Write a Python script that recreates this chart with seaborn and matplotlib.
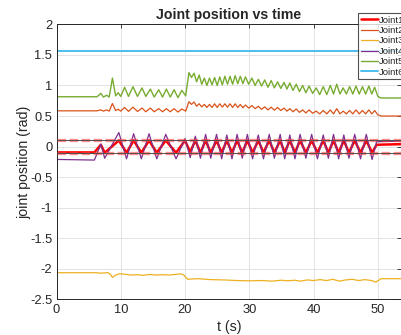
"""
Joint position vs time - recreated from a MATLAB style figure
"""

import matplotlib
matplotlib.use('Agg')
import matplotlib.pyplot as plt
import seaborn as sns

# ---- data ----
t_end = 53.6
joint_labels = ['Joint1', 'Joint2', 'Joint3', 'Joint4', 'Joint5', 'Joint6']
joint_colors = ['#FF0000', '#D95319', '#EDB120', '#7E2F8E', '#77AC30', '#4DBEEE']
joint_widths = [1.8, 0.9, 0.9, 0.9, 1.0, 1.4]

# Joint1 / Joint4 (oscillating wrist joints), peak/trough vertices
t_osc = [0, 5.9, 6.9, 7.5, 9.7, 10.9, 12.0, 13.2, 14.4, 15.6, 17.0, 18.6,
         20.0, 20.8, 21.6, 22.4, 23.2, 24.0, 24.9, 25.7, 26.5, 27.3, 28.1, 28.9,
         29.7, 30.5, 31.4, 32.2, 33.1, 33.9, 34.8, 35.5, 36.3, 37.1, 37.9, 38.8,
         39.7, 40.6, 41.5, 42.3, 43.1, 43.9, 44.7, 45.5, 46.4, 47.3, 48.2, 49.1,
         49.8, 53.6]
joint1 = [-0.095, -0.095, 0.03, -0.1, 0.1, -0.1, 0.1, -0.1, 0.1, -0.1, 0.1, -0.1,
          0.1, -0.09, 0.1, -0.1, 0.1, -0.1, 0.1, -0.1, 0.1, -0.1, 0.1, -0.1,
          0.1, -0.1, 0.1, -0.1, 0.1, -0.1, 0.1, -0.1, 0.1, -0.1, 0.1, -0.1,
          0.1, -0.1, 0.1, -0.1, 0.1, -0.1, 0.1, -0.1, 0.1, -0.1, 0.1, -0.1,
          0.03, 0.04]
joint4 = [-0.21, -0.22, 0.04, -0.19, 0.23, -0.2, 0.21, -0.2, 0.21, -0.2, 0.2, -0.2,
          0.13, -0.18, 0.17, -0.19, 0.2, -0.19, 0.2, -0.2, 0.19, -0.2, 0.2, -0.19,
          0.2, -0.2, 0.19, -0.2, 0.2, -0.19, 0.2, -0.2, 0.19, -0.2, 0.2, -0.19,
          0.2, -0.2, 0.19, -0.19, 0.2, -0.2, 0.19, -0.19, 0.2, -0.2, 0.2, -0.21,
          0.08, 0.09]

# Joint2 / Joint5 (shoulder/elbow), peak/trough vertices
t_arm = [0, 6.3, 6.9, 7.3, 7.8, 8.2, 8.7, 9.2, 9.6, 10.0,
         10.6, 11.2, 11.9, 12.6, 13.3, 13.9, 14.6, 15.2, 15.9, 16.5,
         17.1, 17.7, 18.3, 18.9, 19.5, 20.1, 20.6, 21.0, 21.4, 21.8,
         22.2, 22.6, 23.0, 23.4, 23.8, 24.2, 24.6, 25.0, 25.4, 25.8,
         26.2, 26.6, 27.0, 27.4, 27.8, 28.2, 28.6, 29.0, 29.4, 29.9,
         30.4, 30.9, 31.4, 31.9, 32.4, 32.9, 33.4, 33.9, 34.4, 34.9,
         35.4, 35.85, 36.3, 36.8, 37.3, 37.8, 38.3, 38.8, 39.3, 39.85,
         40.4, 40.95, 41.5, 42.05, 42.6, 43.1, 43.6, 44.1, 44.6, 45.1,
         45.6, 46.1, 46.6, 47.1, 47.6, 48.1, 48.6, 49.05, 49.5, 50.0,
         50.5, 53.6]
joint5 = [0.815, 0.815, 0.87, 0.81, 0.84, 0.81, 1.12, 0.83, 0.88, 0.82,
          0.97, 0.82, 0.98, 0.82, 0.96, 0.82, 0.94, 0.81, 0.93, 0.81,
          0.94, 0.81, 0.93, 0.80, 0.92, 0.83, 1.21, 1.13, 1.2, 1.06,
          1.17, 1.02, 1.12, 1.0, 1.12, 1.01, 1.13, 1.0, 1.14, 1.01,
          1.15, 1.02, 1.15, 1.02, 1.16, 1.03, 1.15, 1.03, 1.14, 1.02,
          1.12, 1.0, 1.1, 0.99, 1.09, 0.97, 1.08, 0.96, 1.06, 0.95,
          1.05, 0.94, 1.04, 0.92, 1.02, 0.9, 1.0, 0.88, 0.99, 0.87,
          0.96, 0.85, 0.98, 0.85, 1.0, 0.86, 1.02, 0.86, 0.96, 0.86,
          0.98, 0.86, 0.99, 0.86, 0.98, 0.86, 0.99, 0.86, 0.97, 0.82,
          0.795, 0.795]
joint2 = [0.585, 0.585, 0.60, 0.58, 0.60, 0.58, 0.705, 0.59, 0.61, 0.58,
          0.64, 0.575, 0.645, 0.575, 0.63, 0.57, 0.63, 0.57, 0.62, 0.57,
          0.62, 0.57, 0.62, 0.565, 0.615, 0.58, 0.735, 0.69, 0.73, 0.66,
          0.70, 0.65, 0.69, 0.64, 0.69, 0.64, 0.70, 0.64, 0.70, 0.645,
          0.70, 0.645, 0.70, 0.64, 0.70, 0.64, 0.69, 0.635, 0.68, 0.63,
          0.67, 0.62, 0.66, 0.61, 0.65, 0.60, 0.645, 0.595, 0.64, 0.59,
          0.63, 0.58, 0.62, 0.57, 0.615, 0.56, 0.60, 0.55, 0.60, 0.545,
          0.58, 0.535, 0.59, 0.535, 0.60, 0.535, 0.62, 0.535, 0.58, 0.535,
          0.59, 0.535, 0.60, 0.535, 0.59, 0.535, 0.60, 0.535, 0.59, 0.52,
          0.50, 0.50]

# Joint3
t_j3 = [0, 6.3, 6.8, 7.5, 8.0, 8.4, 8.7, 9.2, 9.8, 10.5,
        11.5, 12.5, 13.5, 14.5, 15.5, 16.5, 17.5, 18.5, 19.3, 19.8,
        20.4, 21.0, 22.0, 24.0, 26.0, 28.0, 30.0, 32.0, 33.5, 35.0,
        36.0, 37.0, 38.0, 39.0, 40.0, 41.0, 42.0, 43.0, 44.0, 45.0,
        46.0, 47.0, 48.0, 49.0, 49.7, 50.5, 53.6]
joint3 = [-2.062, -2.062, -2.07, -2.065, -2.06, -2.09, -2.14, -2.10, -2.08, -2.085,
          -2.10, -2.095, -2.105, -2.09, -2.10, -2.095, -2.10, -2.09, -2.08, -2.10,
          -2.17, -2.165, -2.16, -2.175, -2.18, -2.19, -2.195, -2.19, -2.20, -2.185,
          -2.195, -2.185, -2.20, -2.18, -2.19, -2.175, -2.19, -2.17, -2.20, -2.18,
          -2.17, -2.19, -2.175, -2.19, -2.215, -2.16, -2.16]

# Joint6 (constant)
t_j6 = [0, t_end]
joint6 = [1.571, 1.571]

limit_lines = [0.1, -0.1]
x_ticks = [0, 10, 20, 30, 40, 50]
y_ticks = [-2.5, -2, -1.5, -1, -0.5, 0, 0.5, 1, 1.5, 2]
y_tick_labels = ['-2.5', '-2', '-1.5', '-1', '-0.5', '0', '0.5', '1', '1.5', '2']

# ---- style ----
sns.set_theme(style='white')
plt.rcParams['font.family'] = ['Liberation Sans', 'DejaVu Sans']
plt.rcParams['axes.unicode_minus'] = False

fig = plt.figure(figsize=(4.01, 3.35), dpi=100)
ax = fig.add_axes([0.1409, 0.106, 0.8591, 0.8215])

series = [(t_osc, joint1), (t_arm, joint2), (t_j3, joint3),
          (t_osc, joint4), (t_arm, joint5), (t_j6, joint6)]
for (tt, yy), lab, col, lw in zip(series, joint_labels, joint_colors, joint_widths):
    sns.lineplot(x=tt, y=yy, ax=ax, color=col, linewidth=lw, label=lab,
                 estimator=None, sort=False)

# limit band around zero
for yl in limit_lines:
    ax.axhline(yl, color='#FF4040', alpha=0.6, lw=2.4, ls=(0, (2.6, 1.0)), zorder=3)
    ax.axhline(yl, color='#505050', lw=0.7, zorder=3.5)

ax.set_xlim(0, t_end)
ax.set_ylim(-2.5, 2)
ax.set_xticks(x_ticks)
ax.set_yticks(y_ticks)
ax.set_yticklabels(y_tick_labels)
ax.grid(True, color='#e3e3e3', lw=0.7)
ax.set_axisbelow(True)
for sp in ax.spines.values():
    sp.set_color('#262626')
    sp.set_linewidth(0.7)
ax.tick_params(direction='in', length=3, width=0.6, colors='#262626',
               labelsize=9.3, top=True, right=True, pad=3)

ax.set_title('Joint position vs time', fontsize=10.2, fontweight='bold', pad=4)
ax.set_xlabel('t (s)', fontsize=10.2, color='#262626', labelpad=3)
ax.set_ylabel('joint position (rad)', fontsize=10.2, color='#262626', labelpad=-1)

leg = ax.legend(loc='upper left', bbox_to_anchor=(0.8935, 0.9603),
                bbox_transform=fig.transFigure, fontsize=6.8, frameon=True,
                fancybox=False, borderpad=0.25, labelspacing=0.15,
                handlelength=1.8, handletextpad=0.1, borderaxespad=0)
leg.get_frame().set_edgecolor('#262626')
leg.get_frame().set_linewidth(0.8)
for txt in leg.get_texts():
    txt.set_color('#262626')

fig.savefig('out.png', dpi=100)
